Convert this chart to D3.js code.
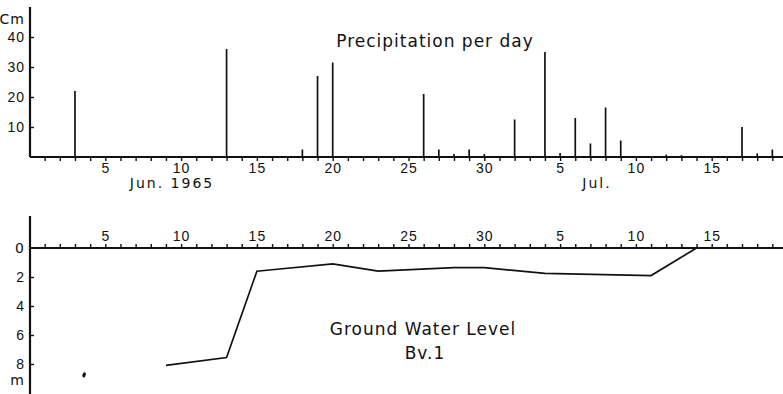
<!DOCTYPE html>
<html>
<head>
<meta charset="utf-8">
<script src="https://cdn.jsdelivr.net/npm/d3@7"></script>
<style>
  body { margin: 0; background: #fff; }
  svg { display: block; font-family: 'DejaVu Sans', sans-serif; }
  .lbl { font-size: 14px; letter-spacing: 1px; fill: #111; }
  .wide { letter-spacing: 2px; }
  .title { font-size: 17px; letter-spacing: 1px; fill: #111; }
</style>
</head>
<body>
<svg id="chart" width="783" height="394"></svg>
<script>
// days counted from 1 Jun 1965 (1 Jul = 31)
var precipDays = [3, 13, 18, 19, 20, 26, 27, 28, 29, 30, 32, 34, 35, 36, 37, 38, 39, 42, 43, 47, 48, 49];
var precipValues = [22, 36, 2.5, 27, 31.5, 21, 2.5, 1, 2.5, 1, 12.5, 35, 1.3, 13, 4.5, 16.5, 5.5, 0.8, 0.6, 10, 1.2, 2.5];

var levelDays = [9, 13, 15, 16, 20, 23, 28, 30, 34, 41, 44];
var levelValues = [8.1, 7.55, 1.6, 1.5, 1.1, 1.6, 1.35, 1.35, 1.75, 1.9, 0];
var levelLoneDay = [3.6];
var levelLoneValue = [8.75];

var labelDays = [5, 10, 15, 20, 25, 30, 35, 40, 45];
var labelTexts = ['5', '10', '15', '20', '25', '30', '5', '10', '15'];
var precipTicks = [10, 20, 30, 40];
var levelTicks = [2, 4, 6, 8];

var svg = d3.select('#chart');

var x = d3.scaleLinear().domain([0, 50]).range([29.5, 787.5]);
var yPrecip = d3.scaleLinear().domain([0, 50]).range([157, 7]);
var yLevel = d3.scaleLinear().domain([0, 10]).range([248, 393]);

function dayLabel(d) {
  var i = labelDays.indexOf(d);
  return i < 0 ? '' : labelTexts[i];
}

function styleAxis(g) {
  g.select('.domain').remove();
  g.selectAll('line').attr('stroke', '#111').attr('stroke-width', 1.4);
  g.selectAll('text').attr('class', 'lbl').attr('font-size', null).attr('font-family', null);
}

// ---- precipitation
var precip = svg.append('g');

precip.append('g')
  .attr('transform', 'translate(0,157)')
  .call(d3.axisBottom(x).tickValues(d3.range(1, 50)).tickFormat(dayLabel).tickSize(4).tickPadding(2))
  .call(styleAxis);

precip.append('line')
  .attr('x1', 30).attr('x2', 783).attr('y1', 157).attr('y2', 157)
  .attr('stroke', '#111').attr('stroke-width', 2.2);

precip.append('g')
  .attr('transform', 'translate(30,0)')
  .call(d3.axisLeft(yPrecip).tickValues(precipTicks).tickSizeInner(-4).tickSizeOuter(0).tickPadding(5))
  .call(styleAxis);

precip.append('line')
  .attr('x1', 30).attr('x2', 30).attr('y1', yPrecip(50)).attr('y2', yPrecip(0))
  .attr('stroke', '#111').attr('stroke-width', 2.2);

precip.selectAll('.bar')
  .data(precipDays)
  .enter().append('line')
  .classed('bar', true)
  .attr('x1', function(d) { return x(d); })
  .attr('x2', function(d) { return x(d); })
  .attr('y1', yPrecip(0))
  .attr('y2', function(d, i) { return yPrecip(precipValues[i]); })
  .attr('stroke', '#111').attr('stroke-width', 1.7);

precip.append('text').attr('class', 'lbl').attr('x', 25).attr('y', 24)
  .attr('text-anchor', 'end').text('Cm');
precip.append('text').attr('class', 'title').attr('x', 435).attr('y', 47)
  .attr('text-anchor', 'middle').text('Precipitation per day');
precip.append('text').attr('class', 'lbl wide').attr('x', 172).attr('y', 188)
  .attr('text-anchor', 'middle').text('Jun. 1965');
precip.append('text').attr('class', 'lbl wide').attr('x', 597).attr('y', 188)
  .attr('text-anchor', 'middle').text('Jul.');

// ---- ground water level
var level = svg.append('g');

level.append('g')
  .attr('transform', 'translate(0,248)')
  .call(d3.axisTop(x).tickValues(d3.range(1, 50)).tickFormat(dayLabel).tickSize(4).tickPadding(3))
  .call(styleAxis);

level.append('line')
  .attr('x1', 30).attr('x2', 783).attr('y1', 248).attr('y2', 248)
  .attr('stroke', '#111').attr('stroke-width', 2.2);

level.append('g')
  .attr('transform', 'translate(30,0)')
  .call(d3.axisLeft(yLevel).tickValues(levelTicks).tickSizeInner(-4).tickSizeOuter(0).tickPadding(5))
  .call(styleAxis);

level.append('text').attr('class', 'lbl').attr('x', 25).attr('y', yLevel(0)).attr('dy', '0.35em')
  .attr('text-anchor', 'end').text('0');

level.append('line')
  .attr('x1', 30).attr('x2', 30).attr('y1', 216).attr('y2', 394)
  .attr('stroke', '#111').attr('stroke-width', 2.2);

var levelLine = d3.line()
  .x(function(d) { return x(d); })
  .y(function(d, i) { return yLevel(levelValues[i]); });

level.append('path')
  .datum(levelDays)
  .attr('d', levelLine)
  .attr('fill', 'none').attr('stroke', '#111').attr('stroke-width', 1.7);

level.selectAll('.lone')
  .data(levelLoneDay)
  .enter().append('ellipse')
  .classed('lone', true)
  .attr('cx', function(d) { return x(d); })
  .attr('cy', function(d, i) { return yLevel(levelLoneValue[i]); })
  .attr('rx', 1.6).attr('ry', 2.8)
  .attr('transform', function(d, i) { return 'rotate(20,' + x(d) + ',' + yLevel(levelLoneValue[i]) + ')'; })
  .attr('fill', '#111');

level.append('text').attr('class', 'lbl').attr('x', 25).attr('y', 385)
  .attr('text-anchor', 'end').text('m');
level.append('text').attr('class', 'title').attr('x', 423).attr('y', 335)
  .attr('text-anchor', 'middle').text('Ground  Water Level');
level.append('text').attr('class', 'title').attr('x', 425).attr('y', 359)
  .attr('text-anchor', 'middle').text('Bv.1');
</script>
</body>
</html>
